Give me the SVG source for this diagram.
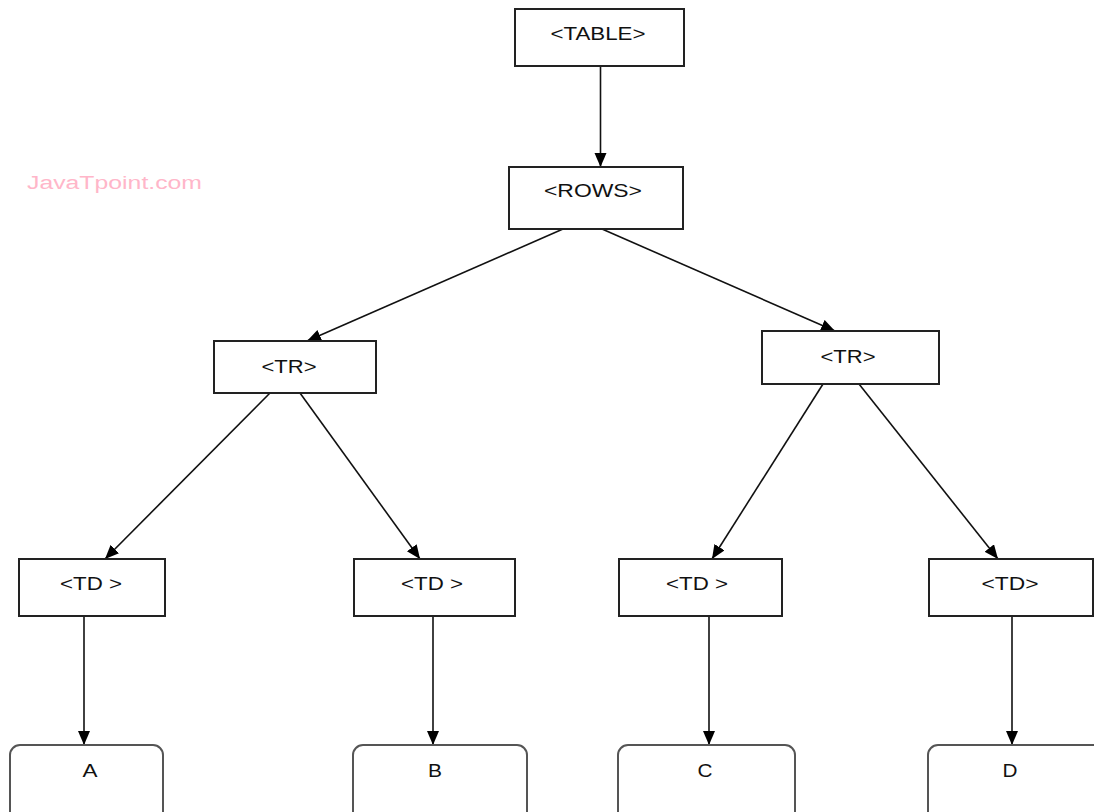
<svg xmlns="http://www.w3.org/2000/svg" width="1094" height="812" viewBox="0 0 1094 812">
<style>
.box{fill:#fff;stroke:#222;stroke-width:2}
.leaf{fill:#fff;stroke:#555;stroke-width:2}
.lbl{font-family:"Liberation Sans",Arial,sans-serif;font-size:19px;fill:#111;text-anchor:middle}
.edge{stroke:#111;stroke-width:1.6;fill:none;marker-end:url(#ah)}
.wm{font-family:"Liberation Sans",Arial,sans-serif;font-size:18px;fill:#ffb6c9}
</style>
<defs>
<marker id="ah" markerUnits="userSpaceOnUse" markerWidth="15" markerHeight="13" refX="14" refY="6" orient="auto">
<path d="M0,0 L14,6 L0,12 z" fill="#000"/>
</marker>
</defs>
<rect width="1094" height="812" fill="#fff"/>
<text class="wm" x="27" y="189" textLength="175" lengthAdjust="spacingAndGlyphs">JavaTpoint.com</text>
<g id="connectors">
<line class="edge" x1="600.5" y1="66" x2="600.5" y2="167"/>
<line class="edge" x1="563" y1="229" x2="307" y2="341"/>
<line class="edge" x1="602" y1="229" x2="835" y2="331"/>
<line class="edge" x1="270" y1="393" x2="105" y2="559"/>
<line class="edge" x1="300" y1="393" x2="420" y2="559"/>
<line class="edge" x1="823" y1="384" x2="712" y2="559"/>
<line class="edge" x1="859" y1="384" x2="998" y2="559"/>
<line class="edge" x1="84" y1="616" x2="84" y2="745"/>
<line class="edge" x1="433" y1="616" x2="433" y2="745"/>
<line class="edge" x1="709" y1="616" x2="709" y2="745"/>
<line class="edge" x1="1012" y1="616" x2="1012" y2="745"/>
</g>
<g id="table">
<rect class="box" x="515" y="9" width="169" height="57"/>
<text class="lbl" x="598" y="40" textLength="95" lengthAdjust="spacingAndGlyphs">&lt;TABLE&gt;</text>
</g>
<g id="rows">
<rect class="box" x="509" y="167" width="174" height="62"/>
<text class="lbl" x="593" y="197" textLength="98" lengthAdjust="spacingAndGlyphs">&lt;ROWS&gt;</text>
</g>
<g id="tr1">
<rect class="box" x="214" y="341" width="162" height="52"/>
<text class="lbl" x="289" y="373" textLength="55" lengthAdjust="spacingAndGlyphs">&lt;TR&gt;</text>
</g>
<g id="tr2">
<rect class="box" x="762" y="331" width="177" height="53"/>
<text class="lbl" x="848" y="363" textLength="55" lengthAdjust="spacingAndGlyphs">&lt;TR&gt;</text>
</g>
<g id="td1">
<rect class="box" x="19" y="559" width="146" height="57"/>
<text class="lbl" x="91" y="590" textLength="62" lengthAdjust="spacingAndGlyphs">&lt;TD &gt;</text>
</g>
<g id="td2">
<rect class="box" x="354" y="559" width="161" height="57"/>
<text class="lbl" x="432" y="590" textLength="62" lengthAdjust="spacingAndGlyphs">&lt;TD &gt;</text>
</g>
<g id="td3">
<rect class="box" x="619" y="559" width="163" height="57"/>
<text class="lbl" x="697" y="590" textLength="62" lengthAdjust="spacingAndGlyphs">&lt;TD &gt;</text>
</g>
<g id="td4">
<rect class="box" x="929" y="559" width="164" height="57"/>
<text class="lbl" x="1010" y="590" textLength="57" lengthAdjust="spacingAndGlyphs">&lt;TD&gt;</text>
</g>
<g id="a">
<rect class="leaf" x="10" y="745" width="153" height="90" rx="10"/>
<text class="lbl" x="90" y="777" textLength="15" lengthAdjust="spacingAndGlyphs">A</text>
</g>
<g id="b">
<rect class="leaf" x="353" y="745" width="174" height="90" rx="10"/>
<text class="lbl" x="435" y="777" textLength="14" lengthAdjust="spacingAndGlyphs">B</text>
</g>
<g id="c">
<rect class="leaf" x="618" y="745" width="177" height="90" rx="10"/>
<text class="lbl" x="705" y="777" textLength="15" lengthAdjust="spacingAndGlyphs">C</text>
</g>
<g id="d">
<rect class="leaf" x="928" y="745" width="180" height="90" rx="10"/>
<text class="lbl" x="1010" y="777" textLength="15" lengthAdjust="spacingAndGlyphs">D</text>
</g>
</svg>
